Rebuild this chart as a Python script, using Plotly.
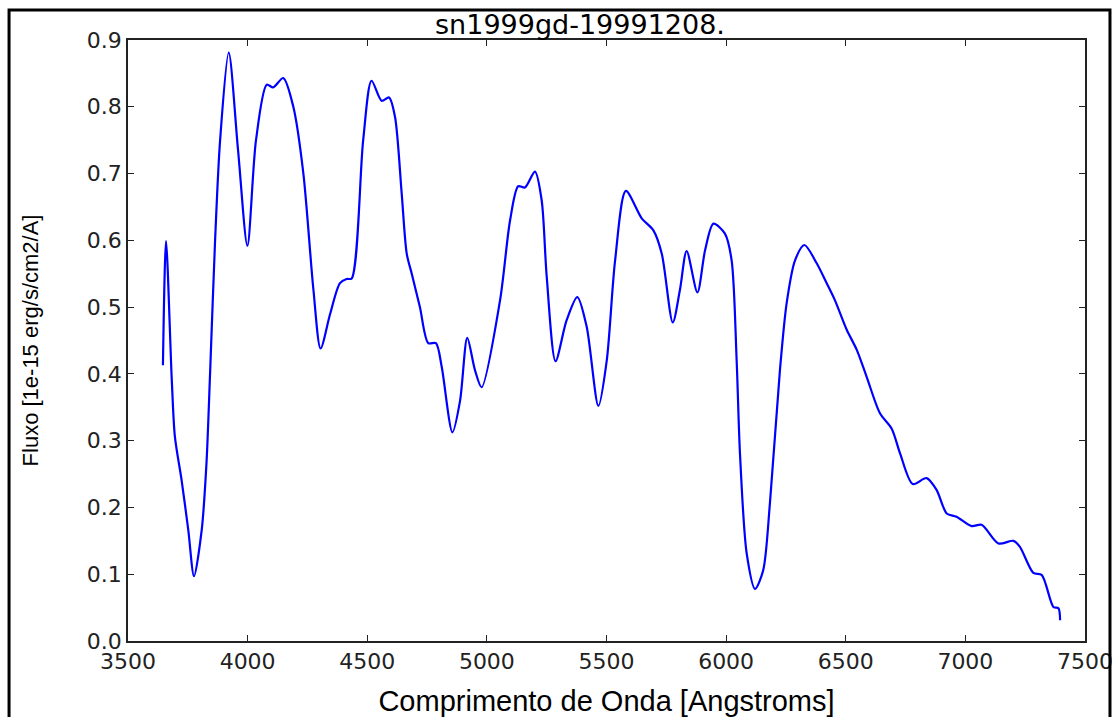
import plotly.graph_objects as go

wavelength = [3646, 3659, 3683, 3696, 3724, 3752, 3776, 3808, 3828, 3843, 3864, 3885, 3921,
              3960, 3999, 4035, 4080, 4107, 4149, 4191, 4233, 4275, 4305, 4345, 4386, 4414, 4435,
              4483, 4518, 4560, 4591, 4616, 4644, 4665, 4686, 4720, 4755, 4787, 4811, 4856,
              4888, 4918, 4950, 4978, 5055, 5097, 5131, 5159, 5201, 5229, 5250, 5287, 5333,
              5378, 5417, 5466, 5501, 5536, 5581, 5647, 5696, 5731, 5777, 5807, 5835, 5880,
              5912, 5947, 5995, 6023, 6044, 6058, 6086, 6121, 6155, 6183, 6225, 6253, 6288,
              6327, 6378, 6420, 6455, 6504, 6546, 6587, 6643, 6692, 6727, 6780, 6838, 6880,
              6922, 6963, 7026, 7068, 7138, 7201, 7228, 7284, 7319, 7368, 7389, 7396]
flux = [0.413, 0.599, 0.391, 0.306, 0.241, 0.166, 0.097, 0.166, 0.266, 0.40, 0.60, 0.75, 0.881,
        0.735, 0.592, 0.75, 0.833, 0.829, 0.843, 0.80, 0.70, 0.526, 0.438, 0.49, 0.536, 0.542, 0.543,
        0.75, 0.839, 0.809, 0.814, 0.785, 0.67, 0.58, 0.55, 0.50, 0.446, 0.446, 0.411, 0.3125,
        0.36, 0.454, 0.406, 0.38, 0.51, 0.63, 0.681, 0.679, 0.703, 0.66, 0.546, 0.419, 0.48,
        0.515, 0.471, 0.352, 0.42, 0.57, 0.674, 0.633, 0.615, 0.58, 0.477, 0.526, 0.584, 0.522,
        0.585, 0.625, 0.61, 0.57, 0.42, 0.28, 0.131, 0.078, 0.106, 0.206, 0.406, 0.506, 0.57,
        0.593, 0.566, 0.536, 0.51, 0.466, 0.436, 0.396, 0.341, 0.318, 0.281, 0.235, 0.244, 0.226,
        0.191, 0.186, 0.172, 0.174, 0.146, 0.15, 0.141, 0.102, 0.099, 0.051, 0.049, 0.031]

x_ticks = [3500, 4000, 4500, 5000, 5500, 6000, 6500, 7000, 7500]
y_ticks = [0.0, 0.1, 0.2, 0.3, 0.4, 0.5, 0.6, 0.7, 0.8, 0.9]

fig = go.Figure()
fig.add_trace(go.Scatter(x=wavelength, y=flux, mode="lines",
                         line=dict(color="#0000ff", width=2.2, shape="spline", smoothing=0.8),
                         showlegend=False, hoverinfo="x+y"))

axis_common = dict(showgrid=False, zeroline=False, showline=True, linecolor="#222222", linewidth=1.5,
                   mirror="ticks", ticks="inside", ticklen=6, tickcolor="#222222", automargin=False,
                   tickfont=dict(family="DejaVu Sans", size=22, color="#222222"))

fig.update_xaxes(range=[3500, 7500], tickvals=x_ticks, ticktext=[str(v) for v in x_ticks],
                 title=dict(text="Comprimento de Onda [Angstroms]",
                            font=dict(family="Liberation Sans", size=29, color="#000000"), standoff=18),
                 **axis_common)
fig.update_yaxes(range=[0, 0.9], tickvals=y_ticks, ticktext=[f"{v:.1f}" for v in y_ticks],
                 title=dict(text="Fluxo [1e-15 erg/s/cm2/A]",
                            font=dict(family="Liberation Sans", size=22, color="#000000"), standoff=42),
                 **axis_common)

fig.update_layout(
    width=1119, height=717,
    margin=dict(l=128, r=34, t=40, b=76),
    paper_bgcolor="white", plot_bgcolor="white",
    title=dict(text="sn1999gd-19991208.", x=580 / 1119, xanchor="center", y=1 - 25 / 717,
               yanchor="middle",
               font=dict(family="DejaVu Sans", size=27, color="#000000")),
    shapes=[dict(type="rect", xref="paper", yref="paper", x0=-0.1243, x1=1.0261, y0=-0.2, y1=1.0499,
                 line=dict(color="black", width=3), fillcolor="rgba(0,0,0,0)", layer="above")],
)

fig.write_html("out.html", config={"displayModeBar": False},
               post_script="document.body.style.margin='0';")
